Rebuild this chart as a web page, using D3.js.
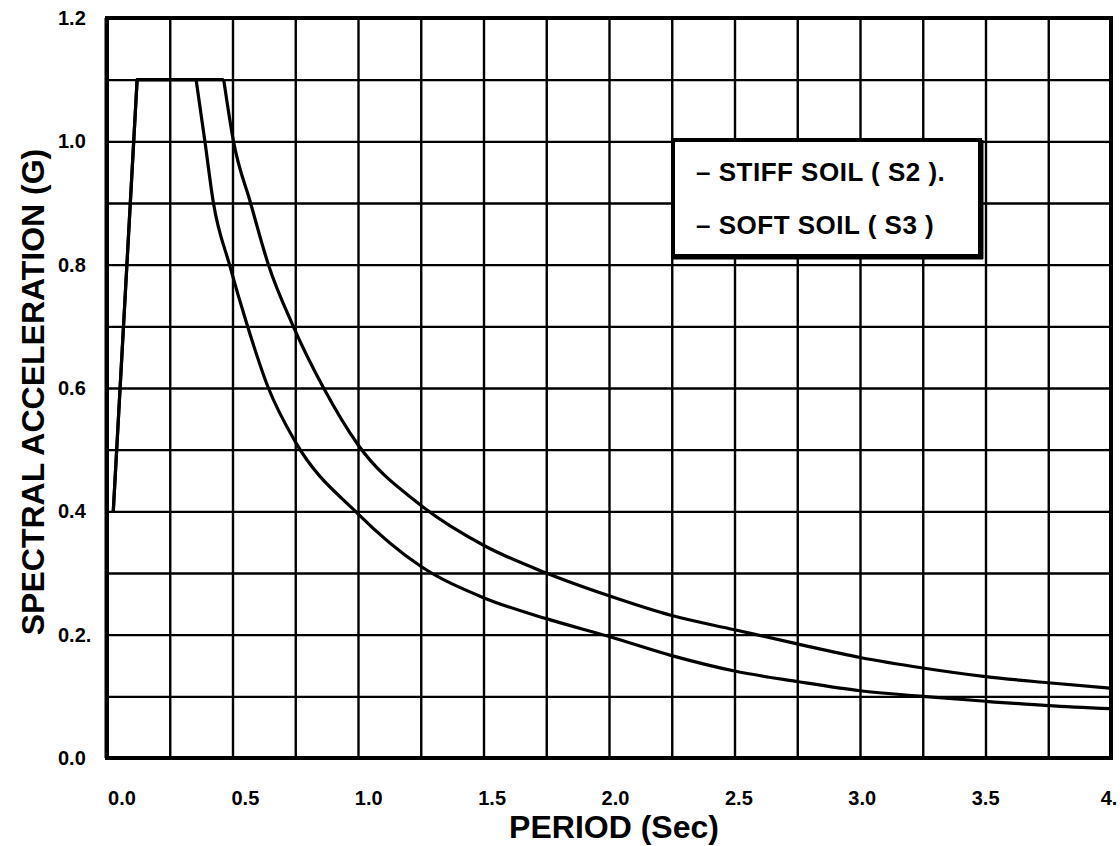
<!DOCTYPE html>
<html><head><meta charset="utf-8">
<script src="https://cdn.jsdelivr.net/npm/d3@7"></script>
<style>
body{margin:0;background:#fff}
svg{display:block}
text{font-family:"Liberation Sans",Arial,Helvetica,sans-serif;font-weight:bold;fill:#000}
</style>
</head><body>
<svg id="c" width="1120" height="846"></svg>
<script>
// ---- data ----
const xTickValues = [0, 0.5, 1.0, 1.5, 2.0, 2.5, 3.0, 3.5, 4.0];
const xTickLabels = ["0.0", "0.5", "1.0", "1.5", "2.0", "2.5", "3.0", "3.5", "4."];
const yTickValues = [0, 0.2, 0.4, 0.6, 0.8, 1.0, 1.2];
const yTickLabels = ["0.0", "0.2.", "0.4", "0.6", "0.8", "1.0", "1.2"];
const xGridValues = [0.25,0.5,0.75,1.0,1.25,1.5,1.75,2.0,2.25,2.5,2.75,3.0,3.25,3.5,3.75];
const yGridValues = [0.1,0.2,0.3,0.4,0.5,0.6,0.7,0.8,0.9,1.0,1.1];

const seriesNames = ["– STIFF SOIL ( S2 ).", "– SOFT SOIL ( S3 )"];

// Stiff soil (S2)
const s2Period = [0.025, 0.12, 0.355, 0.39, 0.424, 0.488, 0.56, 0.643, 0.75, 1.0, 1.25, 1.5, 1.75, 2.0, 2.25, 2.5, 2.75, 3.0, 3.25, 3.5, 3.75, 4.0];
const s2Accel  = [0.40, 1.10, 1.10, 1.00, 0.90, 0.80, 0.70, 0.60, 0.513, 0.396, 0.311, 0.26, 0.226, 0.197, 0.166, 0.141, 0.124, 0.109, 0.100, 0.092, 0.085, 0.080];
// Soft soil (S3)
const s3Period = [0.025, 0.12, 0.465, 0.504, 0.572, 0.643, 0.742, 0.863, 1.0, 1.25, 1.5, 1.75, 2.0, 2.25, 2.5, 2.75, 3.0, 3.25, 3.5, 3.75, 4.0];
const s3Accel  = [0.40, 1.10, 1.10, 1.00, 0.90, 0.80, 0.70, 0.60, 0.508, 0.41, 0.345, 0.30, 0.263, 0.231, 0.208, 0.185, 0.163, 0.146, 0.132, 0.122, 0.113];

// ---- layout ----
const L = 107, R = 1111, T = 18, B = 758;
const x = d3.scaleLinear().domain([0, 4]).range([L, R]);
const y = d3.scaleLinear().domain([0, 1.2]).range([B, T]);
const xLab = d3.scaleLinear().domain([0, 4]).range([122, 1109]);

const svg = d3.select("#c");
svg.append("rect").attr("width",1120).attr("height",846).attr("fill","#fff");

// grid
svg.append("g").attr("transform", `translate(0,${B})`)
  .call(d3.axisBottom(x).tickValues(xGridValues).tickSize(-(B - T)).tickFormat(""))
  .call(g => g.select(".domain").remove())
  .selectAll("line").attr("stroke", "#000").attr("stroke-width", 2.4);
svg.append("g").attr("transform", `translate(${L},0)`)
  .call(d3.axisLeft(y).tickValues(yGridValues).tickSize(-(R - L)).tickFormat(""))
  .call(g => g.select(".domain").remove())
  .selectAll("line").attr("stroke", "#000").attr("stroke-width", 2.4);

// frame
svg.append("rect").attr("x", L).attr("y", T).attr("width", R - L).attr("height", B - T)
  .attr("fill", "none").attr("stroke", "#000").attr("stroke-width", 4);
svg.append("line").attr("x1", L - 1).attr("x2", L - 1).attr("y1", T).attr("y2", B)
  .attr("stroke", "#000").attr("stroke-width", 3);

// curves: ramp + plateau straight, descending branch smooth
const lineStraight = d3.line().x(d => x(d[0])).y(d => y(d[1]));
const lineSmooth = d3.line().x(d => x(d[0])).y(d => y(d[1])).curve(d3.curveMonotoneX);
const s2 = s2Period.map((p, i) => [p, s2Accel[i]]);
const s3 = s3Period.map((p, i) => [p, s3Accel[i]]);
[s2, s3].forEach(s => {
  svg.append("path").datum(s.slice(0, 3)).attr("d", lineStraight).attr("fill", "none")
    .attr("stroke", "#000").attr("stroke-width", 3.2).attr("stroke-linejoin", "round");
  svg.append("path").datum(s.slice(2)).attr("d", lineSmooth).attr("fill", "none")
    .attr("stroke", "#000").attr("stroke-width", 3.2).attr("stroke-linejoin", "round");
});

// tick labels
svg.append("g").selectAll("text").data(xTickValues).join("text")
  .attr("x", d => xLab(d)).attr("y", 805).attr("text-anchor", "middle")
  .attr("font-size", 20).text((d, i) => xTickLabels[i]);
svg.append("g").selectAll("text").data(yTickValues).join("text")
  .attr("x", 58).attr("y", d => y(d) + 7).attr("text-anchor", "start")
  .attr("font-size", 20).text((d, i) => yTickLabels[i]);

// axis titles
svg.append("text").attr("x", 614).attr("y", 838).attr("text-anchor", "middle")
  .attr("font-size", 32).text("PERIOD (Sec)");
svg.append("text").attr("transform", "translate(44,392) rotate(-90)")
  .attr("text-anchor", "middle").attr("font-size", 32).text("SPECTRAL ACCELERATION (G)");

// legend
const lg = svg.append("g");
lg.append("rect").attr("x", 673).attr("y", 140).attr("width", 307).attr("height", 116)
  .attr("fill", "#fff").attr("stroke", "#000").attr("stroke-width", 4);
lg.append("line").attr("x1", 981).attr("x2", 981).attr("y1", 140).attr("y2", 259)
  .attr("stroke", "#000").attr("stroke-width", 5);
lg.append("line").attr("x1", 673).attr("x2", 983).attr("y1", 257).attr("y2", 257)
  .attr("stroke", "#000").attr("stroke-width", 5);
lg.selectAll("text.leg").data(seriesNames).join("text").attr("class", "leg")
  .attr("x", 696).attr("y", (d, i) => 181 + i * 53).attr("font-size", 26)
  .attr("letter-spacing", 0.5).text(d => d);
</script>
</body></html>
